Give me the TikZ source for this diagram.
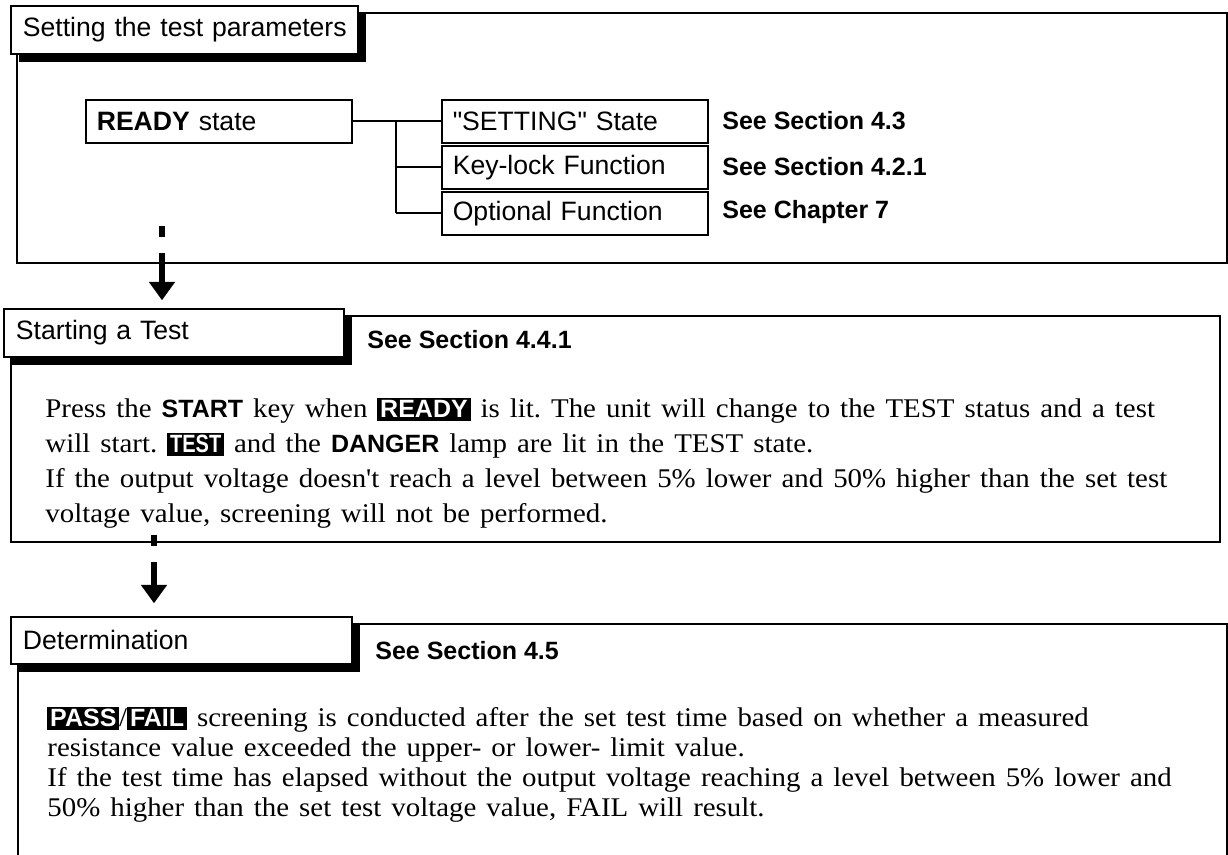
\documentclass[tikz,border=0pt]{standalone}
\usepackage{fontspec}
\setmainfont{Liberation Serif}[Ligatures=TeXOff]
\setsansfont{Liberation Sans}[Ligatures=TeXOff]
\newfontfamily\bodyfont{Liberation Serif}[FakeStretch=1.07,Ligatures=TeXOff]
\newfontfamily\narrowsans{Liberation Sans}[FakeStretch=0.8]
\usepackage{tikz}
\usetikzlibrary{arrows.meta,shadows}
\newcommand{\inv}[1]{{\setlength{\fboxsep}{1.4pt}\colorbox{black}{\textcolor{white}{\sffamily\bfseries\fontsize{12.5}{14}\selectfont #1}}}}
\newcommand{\keyword}[1]{{\sffamily\bfseries\fontsize{12.5}{14}\selectfont #1}}
\newcommand{\bodystyle}{\bodyfont\fontsize{13.5}{16}\selectfont\spaceskip=5pt plus 1pt minus 0.5pt\relax\xspaceskip=\spaceskip\relax}

\begin{document}
\begin{tikzpicture}[x=0.5pt,y=-0.5pt,font=\sffamily,
  frame/.style={draw,line width=0.9pt},
  link/.style={draw,line width=0.8pt},
  titlebox/.style={draw,line width=0.9pt,fill=white,anchor=north west,inner xsep=6pt,inner ysep=0pt,
    minimum height=24pt,align=left,font=\sffamily\fontsize{13.3}{16}\selectfont,
    drop shadow={shadow xshift=4pt,shadow yshift=-4pt,fill=black,opacity=1}},
  subbox/.style={draw,line width=0.8pt,anchor=north west,inner xsep=5.5pt,inner ysep=0pt,text width=122pt,
    minimum height=21.5pt,align=left,font=\sffamily\fontsize{13.3}{16}\selectfont},
  seeref/.style={anchor=west,inner sep=0pt,font=\sffamily\bfseries\fontsize{12.5}{15}\selectfont},
  bodyline/.style={anchor=base west,inner sep=0pt,font=\bodystyle},
  flowarrow/.style={line width=3.25pt,-{Triangle[width=13pt,length=9pt,line width=0.01pt]},
    dash pattern=on 5.5pt off 8pt on 200pt}]
  \useasboundingbox (0,0) rectangle (1228,855);
  \clip (0,0) rectangle (1228,855);

  % frames
  \draw[frame] (17,13) rectangle (1227,263);
  \draw[frame] (11,316) rectangle (1220,542);
  \draw[frame] (18,624) rectangle (1227,880);

  % setting the test parameters
  \node[titlebox,text width=161.5pt] (setting) at (10,5) {\mbox{Setting the test parameters}};
  \node[subbox] (ready) at (85,99) {\textbf{READY} state};
  \coordinate (bus) at (396,0);
  \foreach \y/\nm/\txt/\refs in {
    99/set/{"SETTING" State}/{See Section 4.3},
    145/key/{Key-lock Function}/{See Section 4.2.1},
    191/opt/{Optional Function}/{See Chapter 7}} {
    \node[subbox] (\nm) at (441,\y) {\txt};
    \node[seeref] (\nm-ref) at (722,\y+21.5) {\refs};
    \draw[link] (bus |- \nm.west) -- (\nm.west);
  }
  \draw[link] (ready.east) -- (bus |- ready.east);
  \draw[link] (bus |- set.west) -- (bus |- opt.west);

  % starting a test
  \node[titlebox,text width=158pt] (start) at (3,308) {\mbox{Starting a Test}};
  \node[seeref] (start-ref) at (367,340) {See Section 4.4.1};
  \foreach \y/\nm/\txt in {
    418/sa/{Press the \keyword{START} key when \inv{READY} is lit. The unit will change to the TEST status and a test},
    453/sb/{will start. \inv{\narrowsans TEST} and the \keyword{DANGER} lamp are lit in the TEST state.},
    488/sc/{If the output voltage doesn't reach a level between 5\% lower and 50\% higher than the set test},
    523/sd/{voltage value, screening will not be performed.}} {
    \node[bodyline] (\nm) at (45,\y) {\txt};
  }

  % determination
  \node[titlebox,text width=158.5pt,minimum height=23.5pt] (determ) at (10,616) {\mbox{Determination}};
  \node[seeref] (determ-ref) at (375,651) {See Section 4.5};
  \foreach \y/\nm/\txt in {
    727/da/{\inv{PASS}/\inv{FAIL} screening is conducted after the set test time based on whether a measured},
    757/db/{resistance value exceeded the upper- or lower- limit value.},
    787/dc/{If the test time has elapsed without the output voltage reaching a level between 5\% lower and},
    817/dd/{50\% higher than the set test voltage value, FAIL will result.}} {
    \node[bodyline] (\nm) at (47,\y) {\txt};
  }

  % flow arrows
  \coordinate (gapA) at (162,226);
  \coordinate (gapB) at (154,535);
  \draw[flowarrow,shorten >=4pt] (gapA) -- (start.north -| gapA);
  \draw[flowarrow,shorten >=6.5pt] (gapB) -- (determ.north -| gapB);
\end{tikzpicture}
\end{document}
